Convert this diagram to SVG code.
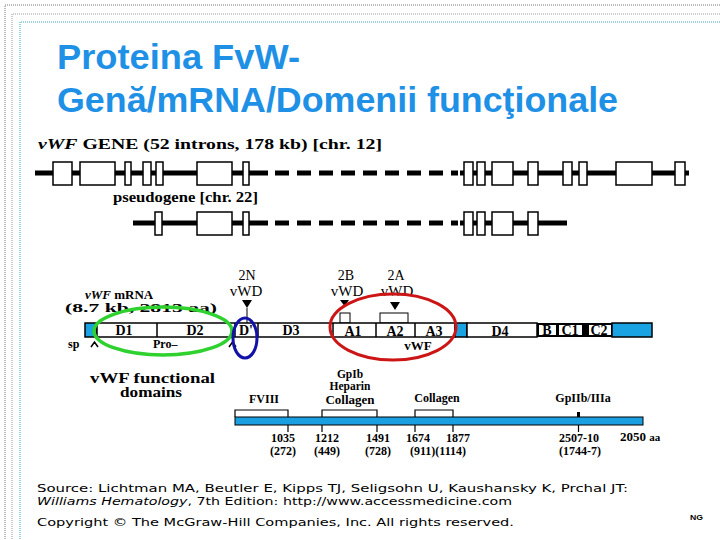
<svg xmlns="http://www.w3.org/2000/svg" width="720" height="540" viewBox="0 0 720 540">
<style>
.t{font-family:"Liberation Serif","Times New Roman",serif;font-weight:bold;fill:#000}
.n{font-family:"Liberation Serif","Times New Roman",serif;font-weight:normal;fill:#000}
.ex{fill:#fff;stroke:#000;stroke-width:1.5}
.gl{stroke:#000;stroke-width:5;fill:none}
.dash{stroke:#000;stroke-width:5;stroke-dasharray:14 8;fill:none}
.bar{stroke:#000;stroke-width:1.5}
.blue{fill:#1aa3e3}
.foot{font-family:"DejaVu Sans",Verdana,sans-serif;font-size:11px;fill:#000}
</style>
<rect width="720" height="540" fill="#fff"/>
<g id="frame" fill="none">
<path d="M720 5H5V540" stroke="#777" stroke-width="1" stroke-dasharray="1 1"/>
<path d="M720 14H12V540" stroke="#999" stroke-width="1" stroke-dasharray="1 1"/>
<path d="M720 22H20V540" stroke="#7cc6d8" stroke-width="1.5" stroke-dasharray="1 1"/>
</g>
<g id="title" font-family="Liberation Sans,Arial,sans-serif" font-weight="bold" font-size="35" fill="#1e90e6">
<text x="57" y="69" textLength="243" lengthAdjust="spacingAndGlyphs">Proteina FvW-</text>
<text x="57" y="112" textLength="561" lengthAdjust="spacingAndGlyphs">Genă/mRNA/Domenii funcţionale</text>
</g>
<g id="gene">
<text class="t" x="38" y="149" font-size="15" textLength="344" lengthAdjust="spacingAndGlyphs"><tspan font-style="italic">vWF</tspan>  GENE  (52  introns,  178  kb)  [chr.  12]</text>
<path class="gl" d="M35 173H268M460 173H689"/>
<path class="dash" d="M275 173H458"/>
<rect class="ex" x="53" y="162" width="19" height="23"/>
<rect class="ex" x="80" y="162" width="35" height="23"/>
<rect class="ex" x="125" y="162" width="6" height="23"/>
<rect class="ex" x="143" y="162" width="8" height="23"/>
<rect class="ex" x="156" y="162" width="7" height="23"/>
<rect class="ex" x="197" y="162" width="35" height="23"/>
<rect class="ex" x="243" y="162" width="6" height="23"/>
<rect class="ex" x="464" y="162" width="9" height="23"/>
<rect class="ex" x="477" y="162" width="8" height="23"/>
<rect class="ex" x="492" y="162" width="21" height="23"/>
<rect class="ex" x="528" y="162" width="10" height="23"/>
<rect class="ex" x="563" y="162" width="9" height="23"/>
<rect class="ex" x="579" y="162" width="8" height="23"/>
<rect class="ex" x="616" y="162" width="36" height="23"/>
<rect class="ex" x="675" y="162" width="10" height="23"/>
</g>
<g id="pseudogene">
<text class="t" x="113" y="202" font-size="14" textLength="145" lengthAdjust="spacingAndGlyphs">pseudogene [chr. 22]</text>
<path class="gl" d="M133 223H268M460 223H567"/>
<path class="dash" d="M275 223H458"/>
<rect class="ex" x="155" y="212" width="7" height="23"/>
<rect class="ex" x="197" y="212" width="35" height="23"/>
<rect class="ex" x="243" y="212" width="6" height="23"/>
<rect class="ex" x="464" y="212" width="9" height="23"/>
<rect class="ex" x="477" y="212" width="8" height="23"/>
<rect class="ex" x="492" y="212" width="21" height="23"/>
<rect class="ex" x="528" y="212" width="10" height="23"/>
</g>
<g id="mrna">
<text class="t" x="85" y="299" font-size="13"><tspan font-style="italic">vWF</tspan> mRNA</text>
<text class="t" x="65" y="312" font-size="12.5" textLength="152" lengthAdjust="spacingAndGlyphs">(8.7 kb, 2813 aa)</text>
<text class="n" x="247" y="280" font-size="14" text-anchor="middle">2N</text>
<text class="n" x="246" y="296" font-size="15" text-anchor="middle">vWD</text>
<text class="n" x="346" y="280" font-size="14" text-anchor="middle">2B</text>
<text class="n" x="347" y="296" font-size="15" text-anchor="middle">vWD</text>
<text class="n" x="396" y="280" font-size="14" text-anchor="middle">2A</text>
<text class="n" x="397" y="296" font-size="15" text-anchor="middle">vWD</text>
<path d="M242 300H252L247 308Z M340 300H349L344.5 306Z M390 302H400L395 310Z"/>
<path d="M247 308V323" stroke="#000" stroke-width="1"/>
<rect x="340" y="313" width="10" height="10" fill="#fff" stroke="#000"/>
<rect x="380" y="313" width="28" height="10" fill="#fff" stroke="#000"/>
<rect class="bar blue" x="85" y="323" width="12" height="14"/>
<rect class="bar" fill="#fff" x="97" y="323" width="358" height="14"/>
<path d="M157 323V337M235 323V337M258 323V337M333 323V337M376 323V337M415 323V337" stroke="#000" stroke-width="1.5"/>
<rect class="bar blue" x="455" y="323" width="12" height="14"/>
<rect class="bar" fill="#fff" x="467" y="323" width="70" height="14"/>
<rect x="537" y="323" width="75" height="14" fill="#000"/>
<rect x="539" y="325" width="17" height="10" fill="#fff"/>
<rect x="559" y="325" width="23" height="10" fill="#fff"/>
<rect x="589" y="325" width="22" height="10" fill="#fff"/>
<rect class="bar blue" x="612" y="323" width="40" height="14"/>
<g class="t" font-size="14" text-anchor="middle">
<text x="124" y="335">D1</text>
<text x="195" y="335">D2</text>
<text x="246" y="335">D'</text>
<text x="291" y="335">D3</text>
<text x="353" y="336">A1</text>
<text x="395" y="336">A2</text>
<text x="434" y="336">A3</text>
<text x="500" y="336">D4</text>
<text x="547" y="335">B</text>
<text x="570" y="335">C1</text>
<text x="599" y="335">C2</text>
</g>
<text class="t" x="68" y="348" font-size="12">sp</text>
<text class="t" x="153" y="348" font-size="12">Pro–</text>
<text class="t" x="418" y="350" font-size="13" text-anchor="middle">vWF</text>
<path d="M91 347L94.5 342L98 347M229 347L232.5 342L236 347" fill="none" stroke="#000" stroke-width="1.5"/>
<ellipse cx="163" cy="331" rx="69" ry="24" fill="none" stroke="#2fd12f" stroke-width="3.5"/>
<ellipse cx="245" cy="338" rx="12" ry="20" fill="none" stroke="#1212a8" stroke-width="3"/>
<ellipse cx="393" cy="327" rx="63" ry="33" fill="none" stroke="#cc1616" stroke-width="3"/>
</g>
<g id="domains">
<text class="t" x="90" y="383" font-size="15" textLength="125" lengthAdjust="spacingAndGlyphs">vWF functional</text>
<text class="t" x="120" y="397" font-size="14" textLength="62" lengthAdjust="spacingAndGlyphs">domains</text>
<g fill="#fff" stroke="#000" stroke-width="1.2">
<path d="M235 417V410H288V417M322 417V410H377V417M415 417V410H453V417"/>
</g>
<path d="M578.5 412V417" stroke="#000" stroke-width="3"/>
<rect x="235" y="417" width="408" height="8" fill="#1aa0e0" stroke="#000" stroke-width="1"/>
<path d="M288 425V432M322 425V432M377 425V432M415 425V432M453 425V432M578.5 425V432" stroke="#000" stroke-width="1.2"/>
<g class="t" font-size="12" text-anchor="middle">
<text x="264" y="403">FVIII</text>
<text x="350" y="378" font-size="11.5">GpIb</text>
<text x="350" y="390" font-size="11.5">Heparin</text>
<text x="350" y="404" font-size="13">Collagen</text>
<text x="437" y="402">Collagen</text>
<text x="583" y="402">GpIIb/IIIa</text>
</g>
<g class="t" font-size="12" text-anchor="middle">
<text x="283" y="442">1035</text>
<text x="283" y="455">(272)</text>
<text x="327" y="442">1212</text>
<text x="327" y="455">(449)</text>
<text x="378" y="442">1491</text>
<text x="378" y="455">(728)</text>
<text x="418" y="442">1674</text>
<text x="458" y="442">1877</text>
<text x="438" y="455">(911)(1114)</text>
<text x="579" y="442">2507-10</text>
<text x="580" y="455">(1744-7)</text>
</g>
<text class="t" x="620" y="441" font-size="13">2050 <tspan font-size="11">aa</tspan></text>
</g>
<g id="footer">
<text class="foot" x="37" y="492" textLength="591" lengthAdjust="spacingAndGlyphs">Source: Lichtman MA, Beutler E, Kipps TJ, Seligsohn U, Kaushansky K, Prchal JT:</text>
<text class="foot" x="37" y="505" textLength="475" lengthAdjust="spacingAndGlyphs"><tspan font-style="italic">Williams Hematology</tspan>, 7th Edition: http://www.accessmedicine.com</text>
<text class="foot" x="37" y="526" textLength="477" lengthAdjust="spacingAndGlyphs">Copyright © The McGraw-Hill Companies, Inc. All rights reserved.</text>
<text x="690" y="520" font-family="Liberation Sans,Arial,sans-serif" font-size="8" font-weight="bold" textLength="13" lengthAdjust="spacingAndGlyphs">NG</text>
</g>
</svg>
